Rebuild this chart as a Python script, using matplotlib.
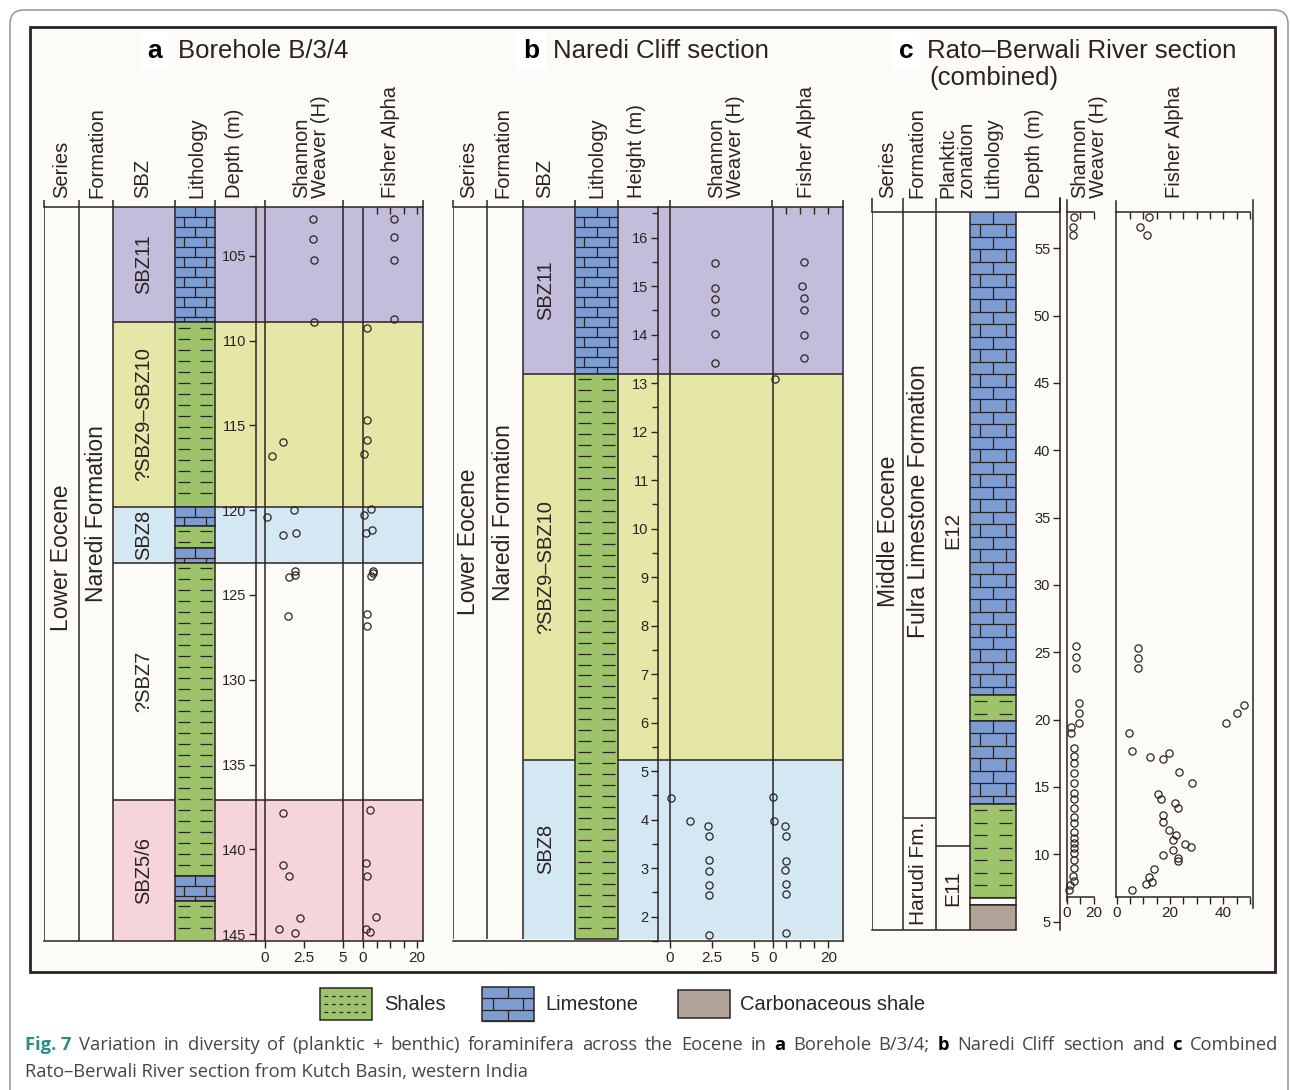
import numpy as np
import matplotlib.pyplot as plt
from matplotlib.patches import Rectangle, FancyBboxPatch
from matplotlib.collections import LineCollection

plt.rcParams['font.family'] = ['Liberation Sans', 'DejaVu Sans']

#===========================
# 1. DATA
#===========================
# a) Borehole B/3/4 -- depth (m), increases downwards
a_zones = ['SBZ11', '?SBZ9–SBZ10', 'SBZ8', '?SBZ7', 'SBZ5/6']
a_zone_top = [102.1, 108.9, 119.8, 123.1, 137.1]
a_zone_base = [108.9, 119.8, 123.1, 137.1, 145.4]
a_lith = ['limestone', 'shale', 'limestone', 'shale', 'limestone', 'shale', 'limestone', 'shale']
a_lith_top = [102.1, 108.9, 119.8, 120.9, 122.2, 123.1, 141.6, 143.05]
a_lith_base = [108.9, 119.8, 120.9, 122.2, 123.1, 141.6, 143.05, 145.4]
a_sw_depth = [102.8, 104.0, 105.25, 108.9, 115.95, 116.8, 120.0, 120.4, 121.45, 121.35,
              123.6, 123.8, 123.95, 126.25, 137.85, 140.9, 141.6, 144.05, 144.7, 144.95]
a_sw_h = [3.1, 3.1, 3.15, 3.15, 1.17, 0.45, 1.86, 0.15, 1.17, 1.97,
          1.95, 1.95, 1.52, 1.47, 1.17, 1.17, 1.52, 2.24, 0.9, 1.95]
a_fa_depth = [102.8, 103.85, 105.25, 108.7, 109.25, 114.65, 115.85, 116.7, 119.9, 120.3, 121.15,
              121.35, 123.6, 123.7, 123.85, 126.1, 126.85, 137.7, 140.8, 141.6, 144.0, 144.7, 144.9]
a_fa_alpha = [11.5, 11.5, 11.5, 11.5, 1.6, 1.35, 1.35, 0.5, 3.1, 0.5, 3.4,
              1.2, 3.8, 3.8, 3.0, 1.6, 1.35, 2.7, 1.2, 1.6, 4.7, 1.2, 2.7]

# b) Naredi Cliff section -- height (m)
b_zones = ['SBZ11', '?SBZ9–SBZ10', 'SBZ8']
b_zone_top = [16.63, 13.19, 5.23]
b_zone_base = [13.19, 5.23, 1.55]
b_lith = ['limestone', 'shale']
b_lith_top = [16.63, 13.19]
b_lith_base = [13.19, 1.55]
b_sw_height = [15.49, 14.97, 14.73, 14.47, 14.02, 13.43, 4.49, 4.02, 3.90, 3.70, 3.21, 2.99, 2.70, 2.49, 1.67]
b_sw_h = [2.66, 2.68, 2.68, 2.68, 2.66, 2.68, 0.04, 1.17, 2.24, 2.3, 2.3, 2.3, 2.3, 2.3, 2.3]
b_fa_height = [15.51, 15.0, 14.76, 14.51, 14.0, 13.52, 13.1, 4.5, 4.02, 3.9, 3.7, 3.2, 3.01, 2.72, 2.51, 1.72]
b_fa_alpha = [11.25, 10.5, 11.25, 11.25, 11.25, 11.25, 0.8, 0.0, 0.5, 4.6, 4.9, 4.9, 4.6, 4.9, 4.9, 4.9]

# c) Rato-Berwali River section (combined) -- depth (m)
c_zones = ['E12', 'E11']
c_zone_top = [57.7, 10.62]
c_zone_base = [10.62, 4.4]
c_forms = ['Fulra Limestone Formation', 'Harudi Fm.']
c_form_top = [57.7, 12.72]
c_form_base = [12.72, 4.4]
c_lith = ['limestone', 'shale', 'limestone', 'shale', 'gap', 'carbonaceous shale']
c_lith_top = [57.7, 21.83, 19.9, 13.72, 6.74, 6.24]
c_lith_base = [21.83, 19.9, 13.72, 6.74, 6.24, 4.4]
c_sw_depth = [57.3, 56.6, 56.0, 25.47, 24.67, 23.8, 21.2, 20.47, 19.77, 19.48, 18.99, 17.87, 17.3,
              16.76, 16.02, 15.32, 14.53, 14.09, 13.42, 12.8, 12.3, 11.68, 11.24, 10.82, 10.45,
              10.08, 9.58, 8.96, 8.39, 8.02, 7.72, 7.35]
c_sw_h = [5.4, 4.4, 4.9, 6.6, 6.6, 6.6, 9.1, 8.9, 8.9, 3.2, 3.2, 5.2, 5.0,
          5.0, 5.2, 5.0, 5.2, 5.4, 5.2, 5.0, 5.2, 5.0, 5.2, 5.4, 5.2,
          5.0, 5.2, 5.2, 4.4, 5.6, 2.4, 2.0]
c_fa_depth = [57.3, 56.55, 56.0, 25.34, 24.55, 23.81, 21.09, 20.52, 19.73, 19.03, 17.65, 17.25, 17.5,
              17.06, 16.09, 15.32, 14.46, 14.13, 13.83, 13.42, 12.92, 12.42, 11.81, 11.44, 11.07,
              10.77, 10.52, 10.32, 9.95, 9.75, 9.51, 8.93, 8.34, 7.97, 7.8, 7.35]
c_fa_alpha = [12.1, 8.6, 11.2, 7.9, 7.9, 7.9, 47.7, 45.2, 40.8, 4.6, 5.6, 12.5, 19.6,
              17.5, 23.5, 28.4, 15.5, 16.5, 21.8, 23.1, 17.5, 17.5, 19.6, 22.1, 21.1,
              25.5, 28.0, 21.1, 17.5, 23.1, 23.1, 14.0, 12.1, 13.4, 11.0, 5.7]

#==========
# 2. STYLE
#==========
INK = '#2b2323'
PAPER = '#fcfbf8'
TEAL = '#2a8f80'
ZONE_COL = {'SBZ11': '#c3bddb', '?SBZ9–SBZ10': '#e5e7a7', 'SBZ8': '#d4e8f4',
            '?SBZ7': PAPER, 'SBZ5/6': '#f5d5db'}
LITH_COL = {'limestone': '#7d9cd2', 'shale': '#9dc46b', 'carbonaceous shale': '#b1a398', 'gap': PAPER}

W, H = 1290, 1090
fig = plt.figure(figsize=(W / 100, H / 100), dpi=100, facecolor='white')
bg = fig.add_axes([0, 0, 1, 1])
bg.set_xlim(0, W)
bg.set_ylim(H, 0)
bg.axis('off')
bg.add_patch(FancyBboxPatch((10, 10), 1278, 1120, boxstyle='round,pad=0,rounding_size=14',
                            fc='white', ec='#9c9c9c', lw=1.2))
bg.add_patch(Rectangle((30, 27), 1245, 945, fc=PAPER, ec=INK, lw=2))


def px_ax(x0, y0, x1, y1):
    ax = fig.add_axes([x0 / W, 1 - y1 / H, (x1 - x0) / W, (y1 - y0) / H])
    ax.patch.set_alpha(0)
    return ax


# pixel row -> axis value for each panel (layout only)
def a_val(py):
    return 105 + (py - 256) / 16.95


def b_val(py):
    return 16 - (py - 237.7) / 48.66


def c_val(py):
    return 5 + (921.7 - py) / 13.47


def lith_box(ax, kind, x0, x1, y0, y1, row, shale_row):
    """lithology block from y0 (visual top) to y1 with a drawn pattern"""
    lo, hi = min(y0, y1), max(y0, y1)
    sgn = 1 if y1 > y0 else -1
    w = x1 - x0
    ax.add_patch(Rectangle((x0, lo), w, hi - lo, fc=LITH_COL[kind], ec=INK, lw=1.1, zorder=3))
    segs = []
    if kind == 'limestone':
        n = int(np.ceil((hi - lo) / row))
        for k in range(n):
            ya = y0 + sgn * k * row
            yb = y0 + sgn * min((k + 1) * row, hi - lo)
            if k > 0:
                segs.append([(x0, ya), (x1, ya)])
            for f in ([0.5] if k % 2 == 0 else [0.22, 0.78]):
                segs.append([(x0 + f * w, ya), (x0 + f * w, yb)])
    elif kind == 'shale':
        n = int((hi - lo) / shale_row)
        for k in range(n):
            y = y0 + sgn * (k + 0.5) * shale_row
            segs.append([(x0 + 0.08 * w, y), (x0 + 0.38 * w, y)])
            segs.append([(x0 + 0.62 * w, y), (x0 + 0.92 * w, y)])
    ax.add_collection(LineCollection(segs, colors=INK, lw=0.9, zorder=4))


def strat_axes(x0, x1, y0, y1, ylim, spine_x):
    ax = px_ax(x0, y0, x1, y1)
    ax.set_xlim(x0, x1)
    ax.set_ylim(*ylim)
    ax.spines['right'].set_visible(False)
    ax.spines['left'].set_position(('data', spine_x))
    for s in ax.spines.values():
        s.set_color(INK)
        s.set_linewidth(1.1)
    ax.set_xticks([])
    ax.tick_params(axis='y', which='both', direction='out', color=INK, labelcolor=INK,
                   labelsize=10.5, pad=2, width=1)
    ax.tick_params(axis='y', which='major', length=5)
    ax.tick_params(axis='y', which='minor', length=4)
    return ax


def header_ticks(ax, xs, h_px, tick_px=7):
    ax.vlines(xs, 1, 1 + tick_px / h_px, transform=ax.get_xaxis_transform(),
              clip_on=False, color=INK, lw=1.1)


def div_axes(x0, y0, x1, y1, xlim, ylim, ticks, labels, top_ticks=(), zero=True, right=True):
    ax = px_ax(x0, y0, x1, y1)
    ax.set_xlim(*xlim)
    ax.set_ylim(*ylim)
    for s in ax.spines.values():
        s.set_visible(False)
        s.set_color(INK)
        s.set_linewidth(1.1)
    ax.spines['right'].set_visible(right)
    ax.set_yticks([])
    ax.set_xticks(ticks, labels)
    ax.tick_params(axis='x', direction='out', length=5, width=1, color=INK,
                   labelcolor=INK, labelsize=11, pad=2)
    if zero:
        ax.axvline(0, color=INK, lw=1.1)
    if len(top_ticks):
        sec = ax.secondary_xaxis('top')
        sec.set_xticks(top_ticks, [])
        sec.tick_params(direction='in', length=5, width=1, color=INK)
        sec.spines['top'].set_visible(False)
    return ax


def points(ax, x, y):
    ax.plot(x, y, 'o', ls='none', mfc='none', mec=INK, ms=5.2, mew=0.9, clip_on=False, zorder=5)


def col_text(ax, x, y, s, size=16.5):
    ax.text(x, y, s, rotation=90, ha='center', va='center', fontsize=size, color=INK, zorder=6)


#==========================
# 3. PANEL a  Borehole B/3/4
#==========================
ya = (a_val(941), a_val(207))
ax = strat_axes(44, 423, 207, 941, ya, 256)
for z, t, b in zip(a_zones, a_zone_top, a_zone_base):
    ax.add_patch(Rectangle((113, t), 423 - 113, b - t, fc=ZONE_COL[z], ec='none', zorder=0))
    col_text(ax, 144, (t + b) / 2, z, 14.5)
ax.hlines(a_zone_base[:-1], 113, 423, color=INK, lw=1.1, zorder=2)
ax.vlines([44, 79, 113], *ya, color=INK, lw=1.1)
for k, t, b in zip(a_lith, a_lith_top, a_lith_base):
    lith_box(ax, k, 175, 215, t, b, 10 / 16.95, 11 / 16.95)
col_text(ax, 62, a_val(558), 'Lower Eocene')
col_text(ax, 97, a_val(514), 'Naredi Formation')
ax.set_yticks(np.arange(105, 146, 5))
header_ticks(ax, [44, 79, 113, 175, 215, 265, 343, 423], 734)

sa = div_axes(256, 207, 343, 941, (-0.58, 5), ya, [0, 2.5, 5], ['0', '2.5', '5'])
points(sa, a_sw_h, a_sw_depth)
fa = div_axes(343, 207, 423, 941, (-7.4, 22.2), ya, [0, 5, 10, 15, 20], ['0', '', '', '', '20'],
              top_ticks=[5, 10, 15, 20])
points(fa, a_fa_alpha, a_fa_depth)

#===============================
# 4. PANEL b  Naredi Cliff section
#===============================
yb = (b_val(941), b_val(207))
ax = strat_axes(453, 843, 207, 941, yb, 658.3)
for z, t, b in zip(b_zones, b_zone_top, b_zone_base):
    ax.add_patch(Rectangle((523, b), 843 - 523, t - b, fc=ZONE_COL[z], ec='none', zorder=0))
    col_text(ax, 546, (t + b) / 2, z, 14.5)
ax.hlines(b_zone_base[:-1], 523, 843, color=INK, lw=1.1, zorder=2)
ax.vlines([453, 487, 523], *yb, color=INK, lw=1.1)
for k, t, b in zip(b_lith, b_lith_top, b_lith_base):
    lith_box(ax, k, 575, 618, t, b, 10 / 48.66, 11 / 48.66)
col_text(ax, 469, b_val(543), 'Lower Eocene')
col_text(ax, 504, b_val(514), 'Naredi Formation')
ax.set_yticks(np.arange(2, 17, 1))
ax.set_yticks(np.arange(1.5, 16.6, 0.5), minor=True)
header_ticks(ax, [453, 487, 523, 575, 618, 670.3, 772, 843], 734)

sb = div_axes(658.3, 207, 772, 941, (-0.7, 6.05), yb, [0, 2.5, 5], ['0', '2.5', '5'], right=False)
points(sb, b_sw_h, b_sw_height)
fb = div_axes(772, 207, 843, 941, (-0.18, 25.2), yb, [0, 5, 10, 15, 20], ['0', '', '', '', '20'],
              top_ticks=[5, 10, 15, 20])
points(fb, b_fa_alpha, b_fa_height)

#==================================
# 5. PANEL c  Rato-Berwali (combined)
#==================================
yc = (c_val(930), c_val(212))
ax = strat_axes(872, 1060, 212, 930, yc, 1060)
ax.spines['left'].set_bounds(yc[0], c_val(198))
ax.spines['bottom'].set_bounds(872, 1016)
ax.vlines([872, 903, 936], *yc, color=INK, lw=1.1)
ax.hlines(c_form_base[:-1], 903, 936, color=INK, lw=1.1)
ax.hlines(c_zone_base[:-1], 936, 970, color=INK, lw=1.1)
col_text(ax, 888, c_val(531), 'Middle Eocene')
col_text(ax, 918, c_val(501), c_forms[0])
col_text(ax, 918, (c_form_top[1] + c_form_base[1]) / 2, c_forms[1], 15)
col_text(ax, 953, c_val(530), c_zones[0], 15)
col_text(ax, 953, c_val(888), c_zones[1], 15)
for k, t, b in zip(c_lith, c_lith_top, c_lith_base):
    lith_box(ax, k, 970, 1016, t, b, 12.5 / 13.47, 12.5 / 13.47)
ax.set_yticks(np.arange(5, 56, 5))
header_ticks(ax, [872, 903, 936, 1060], 718, 14)

yd = (c_val(896.7), c_val(212))
sc = div_axes(1066.7, 212, 1094, 896.7, (0, 20), yd, [0, 10, 20], ['0', '', '20'],
              top_ticks=[10, 20], zero=False, right=False)
for s in ['left', 'bottom', 'top']:
    sc.spines[s].set_visible(True)
sc.spines['left'].set_bounds(c_val(901), c_val(200))
points(sc, c_sw_h, c_sw_depth)

fc_ = div_axes(1115.7, 212, 1253, 896.7, (-0.4, 51.1), yd, np.arange(0, 51, 5),
               ['0', '', '', '', '20', '', '', '', '40', '', ''],
               top_ticks=np.arange(5, 51, 5), zero=False)
for s in ['left', 'bottom', 'top']:
    fc_.spines[s].set_visible(True)
fc_.spines['left'].set_bounds(yd[0], c_val(201))
fc_.spines['right'].set_bounds(c_val(908), c_val(200))
fc_.spines['bottom'].set_bounds(-0.4, 50)
fc_.spines['top'].set_bounds(-0.4, 50)
points(fc_, c_fa_alpha, c_fa_depth)

#=====================
# 6. TITLES & HEADERS
#=====================
for letter, lx, title, tx in [('a', 155, 'Borehole B/3/4', 178),
                              ('b', 531, 'Naredi Cliff section', 553),
                              ('c', 906, 'Rato–Berwali River section', 927)]:
    bg.text(lx, 51, letter, fontsize=19, fontweight='bold', ha='center', va='center', color='black',
            bbox=dict(fc='white', ec='none', pad=5))
    bg.text(tx, 51, title, fontsize=18.5, ha='left', va='center', color=INK)
bg.text(929, 78, '(combined)', fontsize=18.5, ha='left', va='center', color=INK)

headers = [(62, 'Series'), (97, 'Formation'), (143, 'SBZ'), (197, 'Lithology'), (234, 'Depth (m)'),
           (311, 'Shannon\nWeaver (H)'), (390, 'Fisher Alpha'),
           (469, 'Series'), (503, 'Formation'), (545, 'SBZ'), (597, 'Lithology'), (636, 'Height (m)'),
           (726, 'Shannon\nWeaver (H)'), (806, 'Fisher Alpha'),
           (888, 'Series'), (917, 'Formation'), (957, 'Planktic\nzonation'), (993, 'Lithology'),
           (1035, 'Depth (m)'), (1089, 'Shannon\nWeaver (H)'), (1175, 'Fisher Alpha')]
for hx, s in headers:
    bg.text(hx, 198, s, rotation=90, ha='center', va='bottom', fontsize=14.5, color=INK,
            linespacing=1.0, multialignment='left')

#=========
# 7. LEGEND
#=========
bg.add_patch(Rectangle((320, 988), 52, 32, fc=LITH_COL['shale'], ec=INK, lw=1.1))
for yy in [996, 1004, 1012]:
    bg.plot([324, 369], [yy, yy], color=INK, lw=0.9, ls=(0, (3, 3)))
lith_box(bg, 'limestone', 482, 534, 987, 1021, 11.3, 11)
bg.add_patch(Rectangle((678, 990), 52, 28, fc=LITH_COL['carbonaceous shale'], ec=INK, lw=1.1))
for lx, s in [(384, 'Shales'), (545, 'Limestone'), (740, 'Carbonaceous shale')]:
    bg.text(lx, 1005, s, fontsize=14.5, ha='left', va='center', color=INK)

#==========
# 8. CAPTION
#==========
CAP_FONT = ['Open Sans', 'DejaVu Sans']
GREY = '#454545'
renderer = fig.canvas.get_renderer()
line2 = 'Rato–Berwali River section from Kutch Basin, western India'
probe = bg.text(0, 0, line2, fontsize=13, family=CAP_FONT)
cap_size = 13 * 500 / probe.get_window_extent(renderer).width
probe.remove()

line1 = [('Fig. 7', 'bold', TEAL)]
for w in ('Variation in diversity of (planktic + benthic) foraminifera across the Eocene in '
          'a Borehole B/3/4; b Naredi Cliff section and c Combined').split():
    line1.append((w, 'bold' if w in ('a', 'b', 'c') else 'normal', 'black' if w in ('a', 'b', 'c') else GREY))
arts = []
for s, wt, c in line1:
    t = bg.text(0, 1045, s, fontsize=cap_size, fontweight=wt, color=c, family=CAP_FONT,
                ha='left', va='center')
    arts.append((t, t.get_window_extent(renderer).width))
gap = (1278 - 25 - sum(w for _, w in arts)) / (len(arts) - 1)
x = 25
for t, w in arts:
    t.set_x(x)
    x += w + gap
bg.text(25, 1072, line2, fontsize=cap_size, color=GREY, family=CAP_FONT, ha='left', va='center')

fig.savefig('out.png', dpi=100, facecolor='white')
